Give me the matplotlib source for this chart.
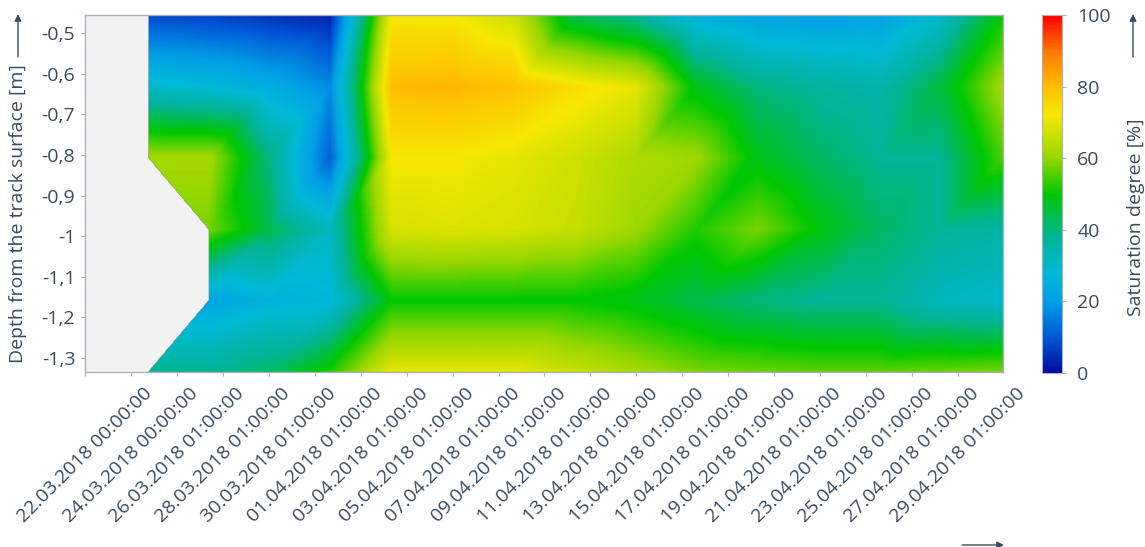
import matplotlib

matplotlib.use("Agg")

import matplotlib.pyplot as plt  # noqa: E402
import matplotlib.tri as mtri  # noqa: E402
import numpy as np  # noqa: E402
import pandas as pd  # noqa: E402
from matplotlib.colors import LinearSegmentedColormap  # noqa: E402
from matplotlib.ticker import FuncFormatter  # noqa: E402

TZ = "Europe/Berlin"
TEXT = "#3b4a5e"
AXIS_GREY = "#a9b1be"
NO_DATA = "#f2f2f2"

axis_start = "2018-03-22 00:00"
axis_end = "2018-05-01 00:00"

# measurement campaigns (local time)
measured_at = [
    "2018-03-24 18:00", "2018-03-27 10:00", "2018-03-30 01:00",
    "2018-04-01 17:00", "2018-04-04 09:00", "2018-04-07 01:00",
    "2018-04-09 17:00", "2018-04-12 08:00", "2018-04-15 00:00",
    "2018-04-17 16:00", "2018-04-20 08:00", "2018-04-23 00:00",
    "2018-04-25 15:00", "2018-04-28 07:00", "2018-05-01 00:00",
]

# sensor depths below the track surface [m]
depths = [-0.455, -0.631, -0.807, -0.983, -1.159, -1.335]

# saturation degree [%], one row per depth, nan = sensor not yet installed
nan = np.nan
sat_d1 = [8, 7, 5, 3, 72, 72, 67, 44, 38, 25, 21, 20, 21, 30, 50]
sat_d2 = [30, 28, 24, 17, 80, 81, 79, 74, 70, 48, 40, 37, 35, 45, 62]
sat_d3 = [62, 62, 40, 11, 72, 72, 70, 67, 63, 61, 48, 42, 38, 38, 55]
sat_d4 = [nan, 58, 44, 32, 68, 69, 68, 66, 61, 52, 58, 49, 42, 38, 36]
sat_d5 = [nan, 22, 26, 27, 50, 50, 50, 50, 48, 44, 40, 38, 38, 32, 30]
sat_d6 = [38, 38, 42, 52, 70, 70, 70, 66, 62, 58, 57, 56, 56, 57, 58]

tick_labels = [
    "22.03.2018 00:00:00", "24.03.2018 00:00:00", "26.03.2018 01:00:00",
    "28.03.2018 01:00:00", "30.03.2018 01:00:00", "01.04.2018 01:00:00",
    "03.04.2018 01:00:00", "05.04.2018 01:00:00", "07.04.2018 01:00:00",
    "09.04.2018 01:00:00", "11.04.2018 01:00:00", "13.04.2018 01:00:00",
    "15.04.2018 01:00:00", "17.04.2018 01:00:00", "19.04.2018 01:00:00",
    "21.04.2018 01:00:00", "23.04.2018 01:00:00", "25.04.2018 01:00:00",
    "27.04.2018 01:00:00", "29.04.2018 01:00:00",
]

depth_ticks = [-0.5, -0.6, -0.7, -0.8, -0.9, -1.0, -1.1, -1.2, -1.3]
cbar_ticks = [0, 20, 40, 60, 80, 100]

plt.rcParams["font.family"] = ["Open Sans", "DejaVu Sans"]
plt.rcParams["font.size"] = 14


def days_since_start(stamps, fmt=None):
    ts = pd.to_datetime(pd.Series(stamps), format=fmt).dt.tz_localize(TZ)
    start = pd.Timestamp(axis_start).tz_localize(TZ)
    return ((ts - start) / pd.Timedelta(days=1)).to_numpy()


t = days_since_start(measured_at)
tick_pos = days_since_start(tick_labels, fmt="%d.%m.%Y %H:%M:%S")
x_end = days_since_start([axis_end])[0]

z = np.array([sat_d1, sat_d2, sat_d3, sat_d4, sat_d5, sat_d6], dtype=float)
n_rows, n_cols = z.shape
tt, dd = np.meshgrid(t, depths)

# split every grid cell along its "/" diagonal; where a sensor is missing
# keep the single triangle formed by the three remaining nodes
tris = []
for i in range(n_rows - 1):
    for j in range(n_cols - 1):
        a, b = i * n_cols + j, i * n_cols + j + 1
        c, d = (i + 1) * n_cols + j, (i + 1) * n_cols + j + 1
        ok = ~np.isnan(z.ravel()[[a, b, c, d]])
        if ok.all():
            tris += [(a, b, c), (b, d, c)]
        elif ok.sum() == 3:
            tris.append(tuple(np.array([a, b, c, d])[ok]))

triang = mtri.Triangulation(tt.ravel(), dd.ravel(), triangles=tris)
interp = mtri.LinearTriInterpolator(triang, np.nan_to_num(z.ravel()))

gx = np.linspace(0, x_end, 1400)
gy = np.linspace(depths[-1], depths[0], 500)
GX, GY = np.meshgrid(gx, gy)
GZ = interp(GX, GY)

cmap = LinearSegmentedColormap.from_list(
    "saturation",
    [
        (0.00, "#000aa0"),
        (0.10, "#005ad7"),
        (0.20, "#00a0e6"),
        (0.28, "#00b9d7"),
        (0.38, "#00b496"),
        (0.50, "#00c800"),
        (0.60, "#96d700"),
        (0.72, "#f5e800"),
        (0.80, "#ffbe00"),
        (0.90, "#ff7800"),
        (1.00, "#ff0000"),
    ],
)

W, H = 1145, 547
fig = plt.figure(figsize=(W / 100, H / 100), dpi=100)
ax = fig.add_axes([85 / W, 1 - 372 / H, 918 / W, 357 / H])
ax.set_facecolor(NO_DATA)

im = ax.imshow(
    GZ,
    extent=(0, x_end, depths[-1], depths[0]),
    origin="lower",
    aspect="auto",
    cmap=cmap,
    vmin=0,
    vmax=100,
    interpolation="bilinear",
)
ax.set_xlim(0, x_end)
ax.set_ylim(depths[-1], depths[0])

ax.set_xticks(tick_pos)
ax.set_xticklabels(tick_labels, rotation=45, ha="center", va="top")
ax.set_yticks(depth_ticks)
ax.yaxis.set_major_formatter(
    FuncFormatter(lambda v, _: f"{v:g}".replace(".", ","))
)
ax.tick_params(axis="x", length=3, pad=6, color=AXIS_GREY, labelcolor=TEXT)
ax.tick_params(axis="y", length=3, pad=4, color=AXIS_GREY, labelcolor=TEXT)
for spine in ax.spines.values():
    spine.set_color(AXIS_GREY)
    spine.set_linewidth(1)

cax = fig.add_axes([1042 / W, 1 - 373 / H, 20 / W, 358 / H])
cbar = fig.colorbar(im, cax=cax, ticks=cbar_ticks)
cbar.outline.set_edgecolor(AXIS_GREY)
cbar.ax.tick_params(length=3, pad=8, color=AXIS_GREY, labelcolor=TEXT)

fig.text(18 / W, 1 - 214 / H, "Depth from the track surface [m]",
         rotation=90, ha="center", va="center", color=TEXT)
fig.text(1136 / W, 1 - 217 / H, "Saturation degree [%]",
         rotation=90, ha="center", va="center", color=TEXT)

arrow = dict(arrowstyle="-|>", color=TEXT, lw=1, mutation_scale=10,
             shrinkA=0, shrinkB=0)
for start, end in [((18, H - 57), (18, H - 14)),
                   ((1133, H - 57), (1133, H - 14)),
                   ((962, 2), (1004, 2))]:
    ax.annotate("", xy=end, xytext=start, xycoords="figure pixels",
                textcoords="figure pixels", arrowprops=arrow,
                annotation_clip=False)

fig.savefig("out.png", dpi=100)
plt.close(fig)
